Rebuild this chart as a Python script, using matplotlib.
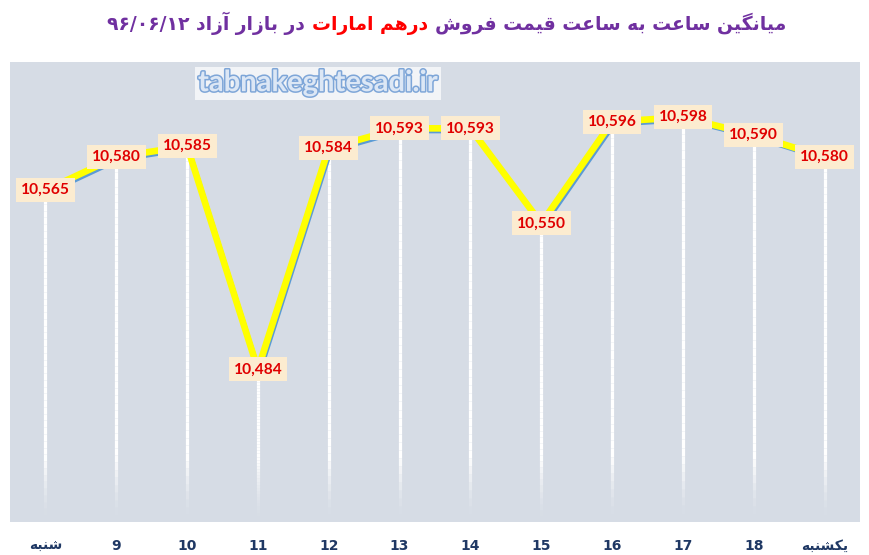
import numpy as np
import matplotlib
matplotlib.use("Agg")
import matplotlib.pyplot as plt
import matplotlib.patheffects as pe
from matplotlib.collections import LineCollection
from matplotlib.offsetbox import TextArea, HPacker, AnchoredOffsetbox

# hourly data (hour labels, first/last are day names)
hours = ["شنبه", "9", "10", "11", "12", "13", "14", "15", "16", "17", "18", "یکشنبه"]
prices = [10565, 10580, 10585, 10484, 10584, 10593, 10593, 10550, 10596, 10598, 10590, 10580]

title_start = "میانگین ساعت به ساعت قیمت فروش"
title_mid = "درهم امارات"
title_end = "در بازار آزاد ۹۶/۰۶/۱۲"
watermark = "tabnakeghtesadi.ir"

# minimal arabic/persian shaping: (isolated, final, initial, medial) or (isolated, final)
FORMS = {
    "ا": "\uFE8D\uFE8E", "آ": "\uFE81\uFE82", "د": "\uFEA9\uFEAA", "ر": "\uFEAD\uFEAE",
    "ز": "\uFEAF\uFEB0", "و": "\uFEED\uFEEE",
    "ب": "\uFE8F\uFE90\uFE91\uFE92", "ت": "\uFE95\uFE96\uFE97\uFE98",
    "س": "\uFEB1\uFEB2\uFEB3\uFEB4", "ش": "\uFEB5\uFEB6\uFEB7\uFEB8",
    "ع": "\uFEC9\uFECA\uFECB\uFECC", "ف": "\uFED1\uFED2\uFED3\uFED4",
    "ق": "\uFED5\uFED6\uFED7\uFED8", "م": "\uFEE1\uFEE2\uFEE3\uFEE4",
    "ن": "\uFEE5\uFEE6\uFEE7\uFEE8", "ه": "\uFEE9\uFEEA\uFEEB\uFEEC",
    "ی": "\uFBFC\uFBFD\uFBFE\uFBFF", "ک": "\uFB8E\uFB8F\uFB90\uFB91",
    "گ": "\uFB92\uFB93\uFB94\uFB95",
}


def shape_word(w):
    out = []
    for i, ch in enumerate(w):
        f = FORMS.get(ch)
        if f is None:
            out.append(ch)
            continue
        prev = w[i - 1] if i > 0 else None
        nxt = w[i + 1] if i + 1 < len(w) else None
        jp = prev in FORMS and len(FORMS[prev]) == 4
        jn = len(f) == 4 and nxt in FORMS
        if jp and jn:
            out.append(f[3])
        elif jp:
            out.append(f[1])
        elif jn:
            out.append(f[2])
        else:
            out.append(f[0])
    return "".join(reversed(out))


def rtl(text):
    words = [shape_word(w) if any(c in FORMS for c in w) else w for w in text.split(" ")]
    return " ".join(reversed(words))


plt.rcParams["font.family"] = ["DejaVu Sans"]

fig = plt.figure(figsize=(8.7, 5.55), dpi=100)
ax = fig.add_axes([10 / 870, 1 - 522 / 555, 850 / 870, 460 / 555])
ax.set_facecolor("#d6dce5")
for s in ax.spines.values():
    s.set_visible(False)

x = np.arange(len(prices))
ymin, ymax = 10415, 10623
ax.set_xlim(-0.5, len(prices) - 0.5)
ax.set_ylim(ymin, ymax)

# drop lines fading out towards the bottom
segs, cols = [], []
for xi, v in zip(x, prices):
    ys = np.linspace(ymin, v, 50)
    for a, b in zip(ys[:-1], ys[1:]):
        segs.append([(xi, a), (xi, b)])
        alpha = np.clip((a - ymin) / 28.0, 0, 1) ** 1.5
        cols.append((1, 1, 1, alpha))
ax.add_collection(LineCollection(segs, colors=cols, linewidths=2.3, zorder=2))

# blue shadow line + yellow line
ax.plot(x, prices, color="#5b9bd5", lw=2.4, zorder=3,
        path_effects=[pe.Stroke(offset=(1.6, -2.4), linewidth=2.4, foreground="#5b9bd5")])
ax.plot(x, prices, color="#ffff00", lw=4.8, zorder=4, solid_joinstyle="miter",
        solid_capstyle="butt")

for xi, v in zip(x, prices):
    ax.text(xi, v, f"{v:,}", ha="center", va="center", fontsize=11.2,
            fontweight="bold", color="#e00000", family="Lato", zorder=5,
            bbox=dict(boxstyle="square,pad=0.32", fc="#fcecd0", ec="none"))

ax.set_xticks(x)
ax.set_xticklabels([rtl(h) for h in hours], fontsize=10, fontweight="bold",
                   color="#1f3864")
ax.tick_params(axis="x", length=0, pad=12)
ax.set_yticks([])

# watermark
ax.text(0.362, 0.954, watermark, transform=ax.transAxes, ha="center", va="center",
        fontsize=21, fontweight="bold", family="Lato", color="#dce7f5", zorder=6,
        path_effects=[pe.Stroke(linewidth=2.2, foreground="#7ea6d8"), pe.Normal()],
        bbox=dict(boxstyle="square,pad=0.12", fc="white", ec="none", alpha=0.7))

# title, three coloured pieces laid out left to right (visual order)
tkw = dict(fontsize=13.5, fontweight="bold", family="DejaVu Sans")
pieces = [
    TextArea(rtl(title_end), textprops=dict(color="#7030a0", **tkw)),
    TextArea(rtl(title_mid), textprops=dict(color="#ff0000", **tkw)),
    TextArea(rtl(title_start), textprops=dict(color="#7030a0", **tkw)),
]
box = HPacker(children=pieces, pad=0, sep=5, align="baseline")
anch = AnchoredOffsetbox(loc="center", child=box, pad=0, frameon=False,
                         bbox_to_anchor=(0.513, 0.958), bbox_transform=fig.transFigure)
fig.add_artist(anch)

fig.savefig("out.png", dpi=100)
